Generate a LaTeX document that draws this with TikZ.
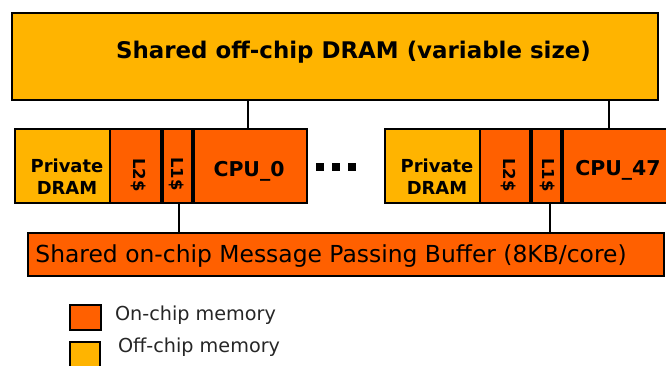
\documentclass[tikz,border=0pt]{standalone}
\usepackage{fontspec}
\setmainfont{DejaVu Sans}
\definecolor{offc}{HTML}{FFB400}
\definecolor{onc}{HTML}{FF6000}
\begin{document}
\begin{tikzpicture}[x=1bp,y=-1bp,
  base/.style={draw=black, line width=2.7bp, inner sep=0pt, outer sep=0pt, anchor=north west},
  yelbox/.style={base, fill=offc},
  orgbox/.style={base, fill=onc},
  lab/.style={inner sep=0pt, outer sep=0pt, font=\bfseries\fontsize{18}{22}\selectfont, align=center},
  cache/.style={inner sep=0pt, outer sep=0pt, rotate=-90, font=\bfseries\fontsize{16.5}{19}\selectfont},
  cpu/.style={inner sep=0pt, outer sep=0pt, font=\bfseries\fontsize{20.5}{24}\selectfont},
  dotsq/.style={fill=black, inner sep=0pt, minimum size=7.5bp},
  conn/.style={draw=black, line width=2.7bp},
  sep/.style={draw=black, line width=3.6bp},
  legtxt/.style={inner sep=0pt, outer sep=0pt, anchor=west, text=black!85, font=\fontsize{19.3}{23}\selectfont}
]
\useasboundingbox (0,0) rectangle (666,365);

% shared off-chip DRAM
\node[yelbox, minimum width=646bp, minimum height=87bp] (top) at (12,13) {};
\node[inner sep=0pt, font=\bfseries\fontsize{23}{27}\selectfont] (title) at (353.5,52) {Shared off-chip DRAM (variable size)};

% left core
\node[yelbox, minimum width=95bp, minimum height=74bp] (pd0) at (15,129) {};
\node[orgbox, minimum width=52bp, minimum height=74bp] (l2a) at (110,129) {};
\node[orgbox, minimum width=31bp, minimum height=74bp] (l1a) at (162,129) {};
\node[orgbox, minimum width=114bp, minimum height=74bp] (cpu0) at (193,129) {};
\draw[sep] (l1a.north west) -- (l1a.south west);
\draw[sep] (l1a.north east) -- (l1a.south east);
\node[lab] (pd0t) at (67,177) {Private\\DRAM};
\node[cache] (l2at) at (139,175) {L2\$};
\node[cache] (l1at) at (177,174) {L1\$};
\node[cpu] (cpu0t) at (249,171) {CPU\_0};

% dots
\node[dotsq] (d1) at (320,167) {};
\node[dotsq] (d2) at (336,167) {};
\node[dotsq] (d3) at (352,167) {};

% right core
\node[yelbox, minimum width=95bp, minimum height=74bp] (pd1) at (385,129) {};
\node[orgbox, minimum width=51bp, minimum height=74bp] (l2b) at (480,129) {};
\node[orgbox, minimum width=31bp, minimum height=74bp] (l1b) at (531,129) {};
\node[orgbox, minimum width=112bp, minimum height=74bp] (cpu47) at (562,129) {};
\draw[sep] (l1b.north west) -- (l1b.south west);
\draw[sep] (l1b.north east) -- (l1b.south east);
\node[lab] (pd1t) at (437,177) {Private\\DRAM};
\node[cache] (l2bt) at (509,175) {L2\$};
\node[cache] (l1bt) at (548,175) {L1\$};
\node[cpu] (cpu47t) at (618,170) {CPU\_47};

% shared on-chip buffer
\node[orgbox, minimum width=636bp, minimum height=43bp] (bus) at (28,233) {};
\node[inner sep=0pt, font=\fontsize{23.5}{27}\selectfont] (bust) at (331,256) {Shared on-chip Message Passing Buffer (8KB/core)};

% connectors
\draw[conn] ([xshift=-2bp]cpu0.north) -- ([xshift=-2bp]cpu0.north |- top.south);
\draw[conn] ([xshift=-9bp]cpu47.north) -- ([xshift=-9bp]cpu47.north |- top.south);
\draw[conn] ([xshift=1.5bp]l1a.south) -- ([xshift=1.5bp]l1a.south |- bus.north);
\draw[conn] ([xshift=3.5bp]l1b.south) -- ([xshift=3.5bp]l1b.south |- bus.north);

% legend
\node[orgbox, minimum width=31bp, minimum height=25bp] (lon) at (70,305) {};
\node[yelbox, minimum width=30bp, minimum height=26bp] (loff) at (70,342) {};
\node[legtxt] (lont) at (115,315) {On-chip memory};
\node[legtxt] (lofft) at (118,347) {Off-chip memory};
\end{tikzpicture}
\end{document}
